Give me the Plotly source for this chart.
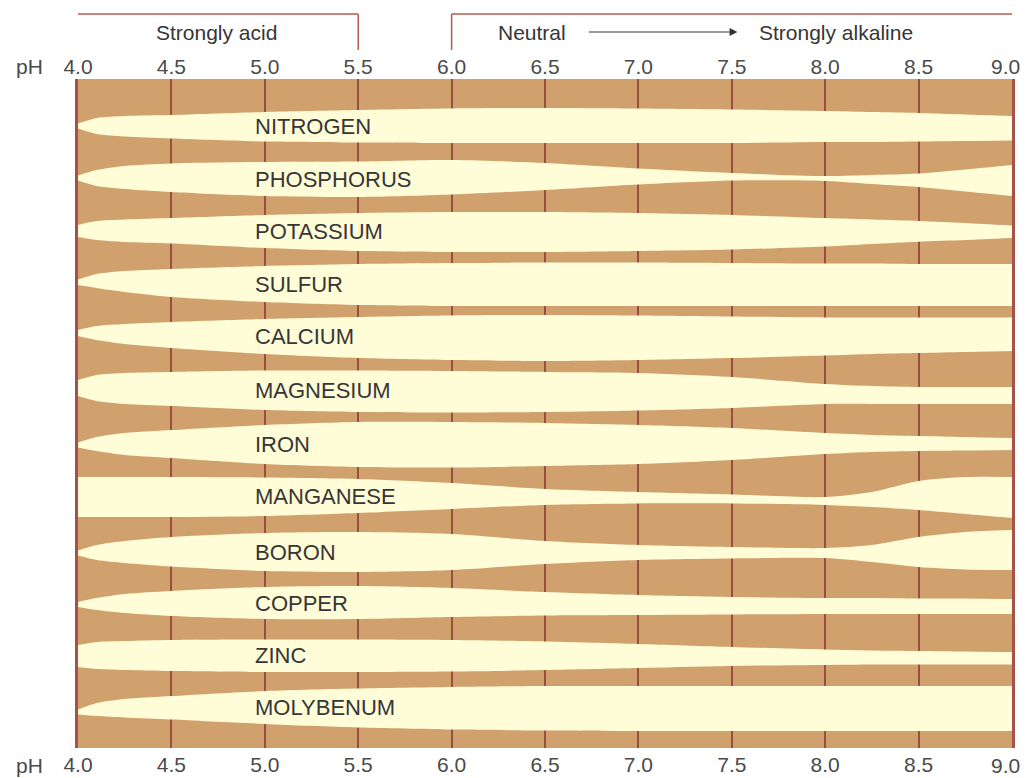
import plotly.graph_objects as go

# pH positions where the band edges were read
ph = [4.0, 4.1, 4.25, 4.5, 5.0, 5.5, 6.0, 6.5, 7.0, 7.5, 8.0, 8.25, 8.5, 8.75, 9.0]

nutrients = ["NITROGEN", "PHOSPHORUS", "POTASSIUM", "SULFUR", "CALCIUM", "MAGNESIUM",
             "IRON", "MANGANESE", "BORON", "COPPER", "ZINC", "MOLYBENUM"]

# band edges (chart row units, increasing downwards)
nitrogen_top = [123.5, 118, 116, 115, 112, 110, 108.5, 108, 108.5, 109.5, 111, 112, 113, 114.5, 116]
nitrogen_bot = [128.5, 134, 136.5, 138.5, 141.5, 142.5, 143, 143, 143, 143, 142, 142, 141.5, 141, 140.5]
phosphorus_top = [175.5, 170, 166, 163.5, 162, 161.5, 160, 163, 168.5, 173, 176, 175, 173.5, 169.5, 165]
phosphorus_bot = [180.5, 186, 189, 192, 196, 197, 194.5, 190, 184.5, 180.5, 181, 184, 187, 191.5, 196]
potassium_top = [225, 221, 219.5, 218, 215, 213, 212, 212, 213, 215, 218, 219.5, 221, 223, 225.5]
potassium_bot = [237, 240, 242, 243.5, 248, 251, 252, 252, 251, 249.5, 246.5, 244, 241.7, 240, 238]
sulfur_top = [279.5, 274, 271, 269, 266, 264, 263, 262.5, 262.5, 263, 263.5, 263.5, 264, 264, 264]
sulfur_bot = [285, 288, 292, 297, 302, 305, 306, 306, 306, 306, 306, 306, 306, 306, 306]
calcium_top = [330, 326, 324, 322, 319, 317, 315.5, 315, 315.5, 316.5, 317.5, 317.5, 317.5, 317.5, 317.5]
calcium_bot = [336, 340, 344, 348, 354, 358, 360, 361, 360, 358, 355.5, 354, 353, 352, 351]
magnesium_top = [380, 375, 373, 372, 370.5, 370.5, 371, 372, 373, 377, 384, 386, 387, 387, 387]
magnesium_bot = [396, 401, 404, 406, 410, 412, 412.5, 412, 410.5, 408, 404, 404, 404, 404, 404]
iron_top = [442.5, 437, 433, 430, 425, 422, 422, 423, 425, 428, 433, 435, 436, 437, 438]
iron_bot = [447.5, 451, 455, 458, 464, 467, 467.5, 466, 464, 460, 454, 452, 451, 450.5, 450]
manganese_top = [477, 477, 477, 477, 477.5, 479, 483, 489, 492, 494.5, 497, 492, 481, 477, 477]
manganese_bot = [517, 517, 517, 517, 516, 513, 509, 505, 503.5, 503.5, 505, 507, 510, 514, 518]
boron_top = [550.5, 545, 541, 537, 533, 532, 534, 541, 545, 547, 548, 545, 537, 532, 530]
boron_bot = [555.5, 560, 563, 566.5, 571, 572, 570, 564, 560, 558.5, 558, 562, 567, 569.5, 570]
copper_top = [602, 598, 594, 591, 587, 586, 588, 592, 595, 597, 598, 598, 598.5, 598.5, 599]
copper_bot = [607, 610, 613, 616, 619, 619, 617, 615.5, 615, 614.5, 614, 614, 614, 614, 614]
zinc_top = [645, 642, 641, 640, 639.5, 639.5, 640, 641.5, 644, 647, 649.5, 650.5, 651, 651.5, 652]
zinc_bot = [667, 669, 670, 671, 672, 672, 671.5, 670, 668, 666, 665, 664.5, 664.5, 664.5, 664.5]
molybdenum_top = [709.5, 703, 699, 696, 691, 688.5, 687, 686, 686, 686, 686, 686, 686, 686, 686]
molybdenum_bot = [714.5, 716, 717.5, 719.5, 724, 727.5, 729.5, 730.5, 731, 731, 731, 731, 731, 731, 731]

tops = [nitrogen_top, phosphorus_top, potassium_top, sulfur_top, calcium_top, magnesium_top,
        iron_top, manganese_top, boron_top, copper_top, zinc_top, molybdenum_top]
bots = [nitrogen_bot, phosphorus_bot, potassium_bot, sulfur_bot, calcium_bot, magnesium_bot,
        iron_bot, manganese_bot, boron_bot, copper_bot, zinc_bot, molybdenum_bot]

tick_vals = [4.0, 4.5, 5.0, 5.5, 6.0, 6.5, 7.0, 7.5, 8.0, 8.5]
tick_text = ["4.0", "4.5", "5.0", "5.5", "6.0", "6.5", "7.0", "7.5", "8.0", "8.5"]
last_tick = "9.0"

BROWN = "#d0a06d"
CREAM = "#fffcd8"
GRID = "#9a4e3e"
RED = "#b65a4f"
TEXT = "#363636"
TICK = "#4a4a4a"
FONT = "Liberation Sans, Arial, sans-serif"

fig = go.Figure()

for name, top, bot in zip(nutrients, tops, bots):
    # lower edge first, then upper edge filled down to it
    fig.add_trace(go.Scatter(
        x=ph, y=bot, mode="lines",
        line=dict(width=0, color=CREAM, shape="spline", smoothing=0.8),
        hoverinfo="skip", showlegend=False,
    ))
    fig.add_trace(go.Scatter(
        x=ph, y=top, mode="lines",
        line=dict(width=0, color=CREAM, shape="spline", smoothing=0.8),
        fill="tonexty", fillcolor=CREAM,
        hoverinfo="skip", showlegend=False,
    ))
    fig.add_annotation(x=4.937, y=(top[4] + bot[4]) / 2, text=name, showarrow=False,
                       xanchor="left", yanchor="middle",
                       font=dict(family=FONT, size=22, color=TEXT))

# dummy trace so the top axis shows up
fig.add_trace(go.Scatter(x=[4, 9], y=[79, 79], xaxis="x2", mode="lines",
                         line=dict(width=0), hoverinfo="skip", showlegend=False))

axis_common = dict(range=[4, 9], tickvals=tick_vals, ticktext=tick_text, ticks="",
                   tickfont=dict(family=FONT, size=21, color=TICK),
                   zeroline=False, fixedrange=True)

# the page body adds an 8px offset, so the figure is kept inside the window
fig.update_layout(
    width=1024, height=770,
    margin=dict(l=70, r=20, t=71, b=30, autoexpand=False),
    paper_bgcolor="white",
    plot_bgcolor=BROWN,
    xaxis=dict(**axis_common, side="bottom", showgrid=True, gridcolor=GRID, gridwidth=2,
               showline=False, ticklabelstandoff=2),
    xaxis2=dict(**axis_common, side="top", overlaying="x", matches="x", showgrid=False,
                showline=False),
    yaxis=dict(range=[748, 79], showgrid=False, zeroline=False, showticklabels=False,
               showline=True, mirror=True, linecolor="#a5524d", linewidth=3),
)

# pH labels on the left, and the last tick label kept inside the window
for yy, shift in [(1.0, 13), (0.0, -17)]:
    fig.add_annotation(xref="paper", yref="paper", x=0, y=yy, text="pH", showarrow=False,
                       xanchor="right", yanchor="middle", xshift=-33, yshift=shift,
                       font=dict(family=FONT, size=21, color=TICK))
    fig.add_annotation(xref="x", yref="paper", x=9.0, y=yy, text=last_tick, showarrow=False,
                       xanchor="right", yanchor="middle", xshift=10, yshift=shift,
                       font=dict(family=FONT, size=21, color=TICK))

# brackets on top
top_y = 1 + (79 - 14) / 669
low_y = 1 + (79 - 50) / 669
txt_y = 1 + (79 - 32) / 669
for x0, y0, x1, y1 in [(4.0, top_y, 5.5, top_y), (5.5, top_y, 5.5, low_y),
                       (6.0, low_y, 6.0, top_y), (6.0, top_y, 9.0, top_y)]:
    fig.add_shape(type="line", xref="x", yref="paper", x0=x0, y0=y0, x1=x1, y1=y1,
                  line=dict(color=RED, width=1.5))

for label, xpos in [("Strongly acid", 4.74), ("Neutral", 6.43), ("Strongly alkaline", 8.06)]:
    fig.add_annotation(x=xpos, y=txt_y, yref="paper", text=label, showarrow=False,
                       xanchor="center", yanchor="middle",
                       font=dict(family=FONT, size=21, color=TEXT))
fig.add_annotation(x=7.53, y=txt_y, yref="paper", ax=-150, ay=0, text="", showarrow=True,
                   arrowhead=2, arrowsize=1.3, arrowwidth=1.2, arrowcolor="#333333")

fig.write_html("out.html")
